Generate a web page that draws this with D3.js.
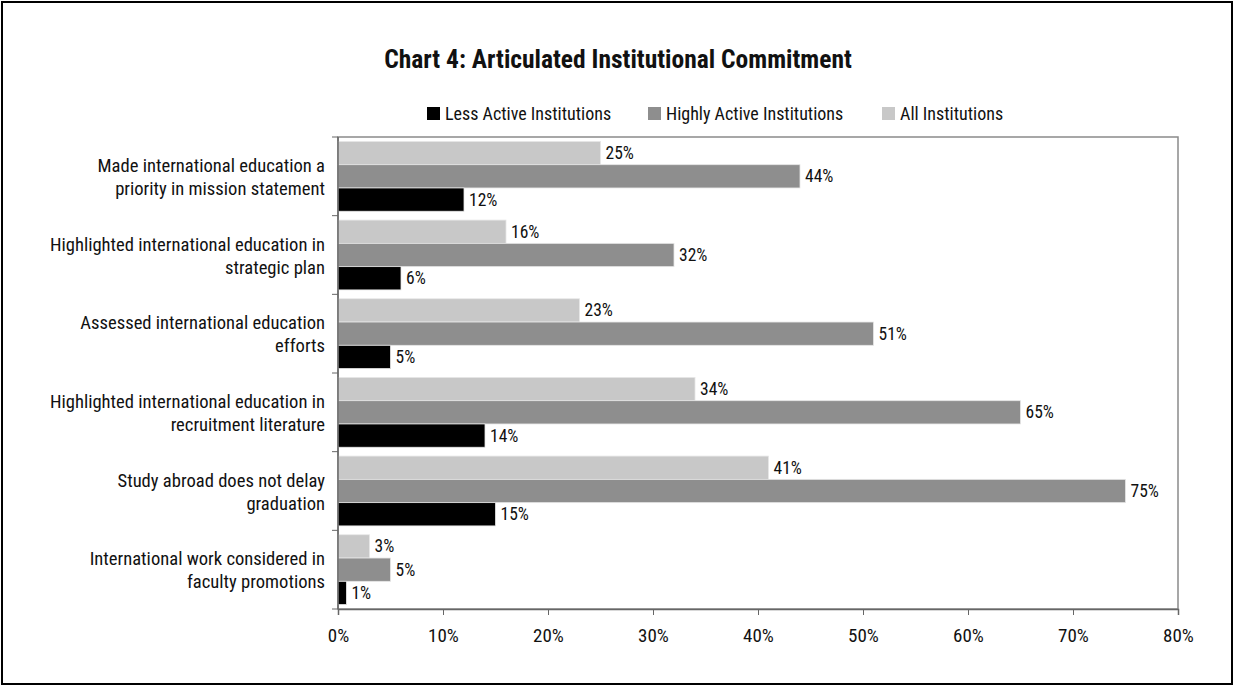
<!DOCTYPE html>
<html><head><meta charset="utf-8">
<script src="https://cdn.jsdelivr.net/npm/d3@7"></script>
<style>
body{margin:0;background:#fff;}
svg text{font-family:"Liberation Sans Narrow","Arial Narrow","Roboto Condensed",sans-serif;fill:#111;}
</style></head><body>
<svg id="chart" width="1234" height="686"></svg>
<script>
const title = "Chart 4: Articulated Institutional Commitment";
const categories = [
  ["Made international education a", "priority in mission statement"],
  ["Highlighted international education in", "strategic plan"],
  ["Assessed international education", "efforts"],
  ["Highlighted international education in", "recruitment literature"],
  ["Study abroad does not delay", "graduation"],
  ["International work considered in", "faculty promotions"]
];
const seriesNames = ["All Institutions", "Highly Active Institutions", "Less Active Institutions"];
const allInstitutions = [25, 16, 23, 34, 41, 3];
const highlyActive = [44, 32, 51, 65, 75, 5];
const lessActive = [12, 6, 5, 14, 15, 0.8];
const seriesColors = ["#c8c8c8", "#8e8e8e", "#000000"];
const legendOrder = [2, 1, 0];
const xTicks = [0, 10, 20, 30, 40, 50, 60, 70, 80];

const series = [allInstitutions, highlyActive, lessActive];
const svg = d3.select("#chart");
const m = {left: 338, right: 1178, top: 137, bottom: 609};

// outer frame
svg.append("rect").attr("x", 2).attr("y", 2).attr("width", 1230).attr("height", 682)
  .attr("fill", "#fff").attr("stroke", "#000").attr("stroke-width", 2);

// title
svg.append("text").attr("x", 618).attr("y", 68).attr("text-anchor", "middle")
  .style("font-weight", "bold").style("font-size", "25.5px").text(title);

const x = d3.scaleLinear().domain([0, 80]).range([m.left, m.right]);
const y = d3.scaleBand().domain(d3.range(categories.length)).range([m.top, m.bottom]);
const inner = d3.scaleBand().domain(d3.range(3)).range([0, y.bandwidth()]).paddingOuter(0.19).paddingInner(0);

// plot area border
svg.append("rect").attr("x", m.left).attr("y", m.top).attr("width", m.right - m.left).attr("height", m.bottom - m.top)
  .attr("fill", "none").attr("stroke", "#8a8a8a").attr("stroke-width", 1.5);

// bars
series.forEach((vals, si) => {
  svg.append("g").selectAll("rect").data(vals).join("rect")
    .attr("x", x(0))
    .attr("y", (d, i) => y(i) + inner(si))
    .attr("width", d => x(d) - x(0))
    .attr("height", inner.bandwidth())
    .attr("fill", seriesColors[si])
    .attr("stroke", "#e6e6e6").attr("stroke-width", 0.8);
  svg.append("g").selectAll("text").data(vals).join("text")
    .attr("x", d => x(d) + 5)
    .attr("y", (d, i) => y(i) + inner(si) + inner.bandwidth() / 2 + 6)
    .style("font-size", "17.5px")
    .text(d => Math.round(d) + "%");
});

// x axis
const xAxis = d3.axisBottom(x).tickValues(xTicks).tickFormat(d => d + "%").tickSize(6).tickPadding(14);
const gx = svg.append("g").attr("transform", `translate(0,${m.bottom})`).call(xAxis);
gx.select(".domain").attr("stroke", "#666").attr("stroke-width", 1.5);
gx.selectAll(".tick line").attr("stroke", "#666");
gx.selectAll(".tick text").style("font-size", "19px").attr("fill", "#111");

// y axis ticks at category boundaries
const bounds = d3.range(categories.length + 1).map(i => m.top + i * y.step());
svg.append("g").selectAll("line").data(bounds).join("line")
  .attr("x1", m.left - 6).attr("x2", m.left).attr("y1", d => d).attr("y2", d => d)
  .attr("stroke", "#666");
svg.append("line").attr("x1", m.left).attr("x2", m.left).attr("y1", m.top).attr("y2", m.bottom)
  .attr("stroke", "#666").attr("stroke-width", 1.5);

// category labels
const lab = svg.append("g").selectAll("text").data(categories).join("text")
  .attr("text-anchor", "end").style("font-size", "18.6px")
  .attr("transform", (d, i) => `translate(325,${y(i) + y.bandwidth() / 2})`);
lab.selectAll("tspan").data(d => d).join("tspan")
  .attr("x", 0).attr("y", (d, j) => (j === 0 ? -4.5 : 18.5))
  .text(d => d);

// legend
const legendX = [427, 648, 882];
const lg = svg.append("g").selectAll("g").data(legendOrder).join("g")
  .attr("transform", (d, k) => `translate(${legendX[k]},107)`);
lg.append("rect").attr("width", 13).attr("height", 13).attr("fill", d => seriesColors[d]);
lg.append("text").attr("x", 18).attr("y", 13).style("font-size", "18px").text(d => seriesNames[d]);
</script>
</body></html>
